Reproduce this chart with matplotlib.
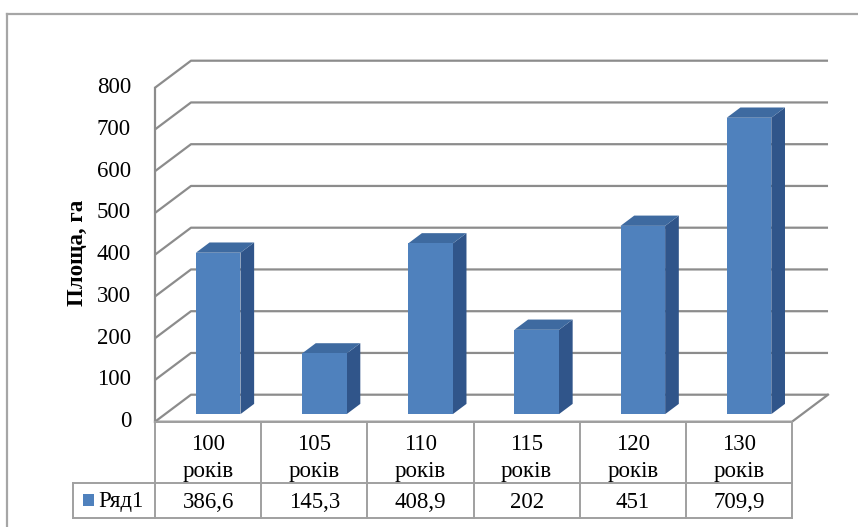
import matplotlib
matplotlib.use("Agg")
import matplotlib.pyplot as plt
from matplotlib.patches import Polygon, Rectangle
from matplotlib.lines import Line2D

# ---- data ----
categories = ["100 років", "105 років", "110 років", "115 років", "120 років", "130 років"]
values = [386.6, 145.3, 408.9, 202, 451, 709.9]
series_name = "Ряд1"
y_ticks = [0, 100, 200, 300, 400, 500, 600, 700, 800]
y_title = "Площа, га"

# ---- layout / style ----
W, H, DPI = 858, 527, 100
ORIGIN_PX = (155.0, 421.7)      # front-left floor corner, pixels
CAT_PX = 106.17                 # pixels per category
VAL_PX = 0.4175                 # pixels per value unit
DX = 36.0 / CAT_PX              # depth offset in category units
DY = 27.0 / VAL_PX              # depth offset in value units
BAR_W = 0.42
BAR_FRONT = 0.28                # depth fraction of the bar front face
BAR_DEPTH = 0.38                # depth fraction occupied by a bar

FRONT = "#4F81BD"
TOP = "#3E6AA0"
SIDE = "#30558A"
GRID = "#8C8C8C"
TABLE = "#A0A0A0"
FONT = "Liberation Serif"

fig = plt.figure(figsize=(W / DPI, H / DPI), dpi=DPI)
ax = fig.add_axes([0, 0, 1, 1])
ax.set_xlim(-ORIGIN_PX[0] / CAT_PX, (W - ORIGIN_PX[0]) / CAT_PX)
ax.set_ylim(-(H - ORIGIN_PX[1]) / VAL_PX, ORIGIN_PX[1] / VAL_PX)
ax.axis("off")


def px(xp, yp):
    """Pixel position (from top-left) to data coordinates."""
    return (xp - ORIGIN_PX[0]) / CAT_PX, (ORIGIN_PX[1] - yp) / VAL_PX


n = len(categories)
ymax = max(y_ticks)

# outer frame of the chart area
fx0, fy0 = 7 / W, 1 - 14 / H
fig.add_artist(Line2D([fx0, fx0], [fy0, -0.01], color="#A6A6A6", lw=1.6,
                      transform=fig.transFigure))
fig.add_artist(Line2D([fx0, 1.01], [fy0, fy0], color="#A6A6A6", lw=1.6,
                      transform=fig.transFigure))

# back-wall gridlines with side-wall diagonals
for t in y_ticks:
    ax.plot([0, DX, n + DX], [t, t + DY, t + DY], color=GRID, lw=1.6,
            solid_capstyle="butt", zorder=1)
# front-left vertical axis
ax.plot([0, 0], [0, ymax], color=GRID, lw=1.6, zorder=1)
# floor front edge and right diagonal
ax.plot([0, n, n + DX], [0, 0, DY], color=GRID, lw=1.6, zorder=1)

# 3D-looking columns
for i, v in enumerate(values):
    x0 = i + 0.5 - BAR_W / 2 + BAR_FRONT * DX
    yb = BAR_FRONT * DY
    ddx, ddy = BAR_DEPTH * DX, BAR_DEPTH * DY
    side = Polygon([(x0 + BAR_W, yb), (x0 + BAR_W + ddx, yb + ddy),
                    (x0 + BAR_W + ddx, yb + ddy + v), (x0 + BAR_W, yb + v)],
                   closed=True, facecolor=SIDE, edgecolor="none", zorder=3)
    top = Polygon([(x0, yb + v), (x0 + BAR_W, yb + v),
                   (x0 + BAR_W + ddx, yb + v + ddy), (x0 + ddx, yb + v + ddy)],
                  closed=True, facecolor=TOP, edgecolor="none", zorder=3)
    front = Rectangle((x0, yb), BAR_W, v, facecolor=FRONT, edgecolor="none",
                      zorder=4)
    for p in (side, top, front):
        ax.add_patch(p)

# y tick labels
lx, _ = px(131, 0)
for t in y_ticks:
    ax.text(lx, t, str(t), ha="right", va="center", fontsize=16.5,
            family=FONT, color="black")

# y axis title
tx, ty = px(77, 253)
ax.text(tx, ty, y_title, rotation=90, ha="center", va="center",
        fontsize=16.5, fontweight="bold", family=FONT, color="black")

# data table
_, r1 = px(0, 483)
_, r2 = px(0, 518)
lx0, _ = px(73, 0)
ax.plot([0, n], [0, 0], color=TABLE, lw=1.4, zorder=2)
ax.plot([lx0, n], [r1, r1], color=TABLE, lw=1.4, zorder=2)
ax.plot([lx0, n], [r2, r2], color=TABLE, lw=1.4, zorder=2)
for k in range(n + 1):
    ax.plot([k, k], [0, r2], color=TABLE, lw=1.4, zorder=2)
ax.plot([lx0, lx0], [r1, r2], color=TABLE, lw=1.4, zorder=2)

_, ly1 = px(0, 445)
_, ly2 = px(0, 472)
_, ly3 = px(0, 502)
for i, (c, v) in enumerate(zip(categories, values)):
    first, second = c.split(" ", 1)
    ax.text(i + 0.5, ly1, first, ha="center", va="center", fontsize=16.5,
            family=FONT)
    ax.text(i + 0.5, ly2, second, ha="center", va="center", fontsize=16.5,
            family=FONT)
    ax.text(i + 0.5, ly3, f"{v:g}".replace(".", ","), ha="center",
            va="center", fontsize=16.5, family=FONT)

# legend key inside the table
kx0, ky0 = px(83, 506)
kx1, ky1 = px(94, 494)
ax.add_patch(Rectangle((kx0, ky0), kx1 - kx0, ky1 - ky0, facecolor=FRONT,
                       edgecolor="none", zorder=4))
tx2, _ = px(98, 0)
ax.text(tx2, ly3, series_name, ha="left", va="center", fontsize=16.5,
        family=FONT)

fig.savefig("out.png", dpi=DPI)
